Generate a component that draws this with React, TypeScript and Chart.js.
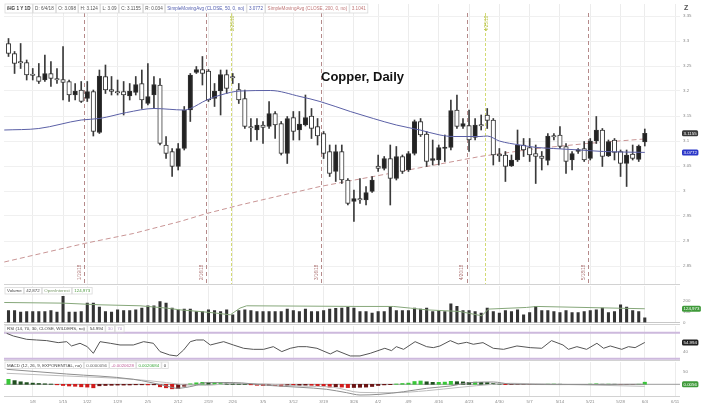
import React, { useEffect, useRef } from 'react';
import { Chart, registerables } from 'chart.js';

Chart.register(...registerables);

const FONT = '"Liberation Sans", Arial, sans-serif';

// ---------------- data ----------------
const opens = [
  3.295, 3.275, 3.258, 3.257, 3.233, 3.229, 3.222, 3.235, 3.225, 3.223,
  3.219, 3.192, 3.202, 3.185, 3.199, 3.117, 3.229, 3.203, 3.199, 3.199,
  3.190, 3.197, 3.215, 3.175, 3.192, 3.212, 3.092, 3.079, 3.049, 3.085,
  3.162, 3.237, 3.243, 3.240, 3.185, 3.200, 3.233, 3.229, 3.203, 3.185,
  3.129, 3.122, 3.132, 3.129, 3.155, 3.135, 3.075, 3.147, 3.122, 3.132,
  3.150, 3.129, 3.115, 3.079, 3.039, 3.079, 3.022, 2.979, 2.985, 2.982,
  2.999, 3.050, 3.045, 3.065, 3.025, 3.069, 3.042, 3.075, 3.139, 3.114,
  3.061, 3.062, 3.085, 3.087, 3.162, 3.129, 3.131, 3.107, 3.131, 3.152,
  3.142, 3.074, 3.072, 3.050, 3.062, 3.092, 3.087, 3.075, 3.070, 3.061,
  3.110, 3.112, 3.089, 3.062, 3.079, 3.085, 3.065, 3.100, 3.122, 3.070,
  3.102, 3.079, 3.055, 3.074, 3.063, 3.098,
];
const highs = [
  3.305, 3.279, 3.295, 3.262, 3.245, 3.255, 3.272, 3.259, 3.245, 3.289,
  3.222, 3.215, 3.219, 3.219, 3.202, 3.242, 3.252, 3.229, 3.222, 3.219,
  3.215, 3.229, 3.242, 3.255, 3.229, 3.225, 3.109, 3.085, 3.095, 3.169,
  3.235, 3.249, 3.269, 3.243, 3.215, 3.242, 3.242, 3.235, 3.215, 3.202,
  3.145, 3.145, 3.139, 3.179, 3.159, 3.139, 3.149, 3.159, 3.159, 3.192,
  3.165, 3.145, 3.119, 3.092, 3.092, 3.092, 3.025, 3.002, 3.025, 3.009,
  3.029, 3.072, 3.069, 3.092, 3.089, 3.072, 3.079, 3.142, 3.145, 3.119,
  3.102, 3.092, 3.112, 3.182, 3.192, 3.145, 3.162, 3.145, 3.152, 3.165,
  3.145, 3.085, 3.079, 3.072, 3.122, 3.105, 3.105, 3.092, 3.079, 3.115,
  3.115, 3.129, 3.095, 3.079, 3.085, 3.099, 3.105, 3.149, 3.125, 3.102,
  3.105, 3.082, 3.082, 3.092, 3.092, 3.124,
];
const lows = [
  3.269, 3.235, 3.245, 3.222, 3.222, 3.215, 3.219, 3.209, 3.215, 3.182,
  3.179, 3.182, 3.177, 3.179, 3.110, 3.115, 3.195, 3.192, 3.192, 3.152,
  3.182, 3.192, 3.165, 3.172, 3.165, 3.092, 3.065, 3.029, 3.042, 3.082,
  3.139, 3.235, 3.212, 3.179, 3.169, 3.152, 3.195, 3.215, 3.175, 3.125,
  3.099, 3.102, 3.095, 3.125, 3.105, 3.072, 3.055, 3.102, 3.102, 3.130,
  3.105, 3.092, 3.065, 3.029, 3.019, 3.015, 2.972, 2.939, 2.975, 2.972,
  2.997, 3.039, 3.042, 2.972, 3.022, 3.035, 3.039, 3.072, 3.109, 3.049,
  3.052, 3.052, 3.059, 3.082, 3.125, 3.125, 3.079, 3.102, 3.122, 3.125,
  3.052, 3.059, 3.019, 3.049, 3.059, 3.069, 3.059, 3.015, 3.042, 3.052,
  3.102, 3.085, 3.035, 3.042, 3.075, 3.059, 3.062, 3.095, 3.049, 3.069,
  3.062, 3.029, 3.009, 3.062, 3.059, 3.090,
];
const closes = [
  3.275, 3.255, 3.256, 3.232, 3.231, 3.219, 3.235, 3.225, 3.222, 3.217,
  3.192, 3.200, 3.179, 3.199, 3.119, 3.230, 3.202, 3.199, 3.196, 3.192,
  3.200, 3.213, 3.182, 3.189, 3.213, 3.095, 3.075, 3.049, 3.085, 3.162,
  3.232, 3.243, 3.235, 3.182, 3.200, 3.233, 3.205, 3.226, 3.182, 3.129,
  3.126, 3.132, 3.127, 3.155, 3.132, 3.075, 3.145, 3.119, 3.134, 3.147,
  3.125, 3.110, 3.075, 3.035, 3.079, 3.022, 2.975, 2.985, 2.982, 2.997,
  3.022, 3.045, 3.065, 3.025, 3.069, 3.039, 3.075, 3.139, 3.112, 3.059,
  3.065, 3.087, 3.087, 3.161, 3.129, 3.135, 3.102, 3.132, 3.130, 3.141,
  3.072, 3.070, 3.049, 3.062, 3.092, 3.082, 3.072, 3.069, 3.065, 3.110,
  3.108, 3.089, 3.059, 3.075, 3.083, 3.062, 3.100, 3.122, 3.069, 3.099,
  3.077, 3.055, 3.072, 3.065, 3.090, 3.1155,
];
// volume in thousands of contracts
const volumes = [
  109, 109, 94, 100, 100, 100, 100, 109, 94, 237,
  94, 94, 100, 176, 176, 140, 100, 94, 115, 109,
  109, 115, 131, 152, 152, 191, 176, 131, 115, 122,
  122, 100, 100, 115, 109, 100, 115, 70, 109, 115,
  109, 100, 100, 100, 100, 100, 122, 109, 100, 122,
  100, 100, 109, 122, 128, 131, 140, 131, 100, 100,
  85, 100, 100, 146, 109, 109, 109, 131, 122, 131,
  100, 109, 100, 170, 146, 109, 109, 100, 85, 131,
  100, 85, 109, 100, 115, 70, 91, 146, 109, 109,
  100, 91, 109, 91, 91, 100, 109, 115, 131, 91,
  100, 161, 140, 109, 100, 42.872,
];
const sma50Idx = [-0.7, 5, 12, 15, 19.5, 24, 29, 30, 32.7, 35, 38.2, 43.2, 48.1, 51.4, 56.4, 60.2, 64, 67.9, 71.2, 73.4, 77.8, 79, 81, 84.4, 87.2, 89.9, 94.3, 98.2, 105];
const sma50Val = [3.122, 3.125, 3.142, 3.145, 3.157, 3.165, 3.162, 3.165, 3.182, 3.192, 3.2, 3.201, 3.189, 3.179, 3.159, 3.145, 3.132, 3.122, 3.112, 3.109, 3.109, 3.11, 3.1, 3.092, 3.087, 3.085, 3.082, 3.079, 3.0772];
const sma200Idx = [-0.7, 12.5, 20.6, 28.3, 32.7, 38.2, 51.4, 64.6, 77.8, 87.2, 95.4, 105];
const sma200Val = [2.858, 2.895, 2.915, 2.939, 2.955, 2.972, 3.009, 3.039, 3.069, 3.085, 3.095, 3.1041];
// open interest in thousands
const oiIdx = [-0.7, 9, 15.1, 21.7, 26.1, 28.3, 31.6, 34.3, 36.6, 38.2, 39.3, 58, 63.5, 66.3, 69, 74.5, 78.1, 79.2, 85.5, 87.2, 105];
const oiVal = [182, 176, 161, 152, 131, 115, 100, 85, 70, 131, 152, 146, 146, 131, 115, 100, 61, 122, 137, 146, 125];
const rsiIdx = [-0.3, 0.8, 3.0, 4.6, 6.3, 8.2, 9.6, 10.4, 11.8, 13.0, 14.0, 15.1, 16.8, 18.4, 20.6, 22.3, 23.9, 25.0, 26.6, 27.8, 28.9, 30.0, 31.0, 32.2, 33.3, 34.4, 35.5, 37.1, 38.8, 40.4, 42.1, 43.7, 45.1, 46.5, 47.8, 49.2, 50.9, 53.1, 54.2, 56.4, 58.0, 59.7, 62.1, 63.2, 64.0, 65.2, 67.1, 69.0, 70.1, 71.2, 72.9, 74.2, 75.6, 76.7, 78.3, 80.0, 81.7, 83.9, 86.1, 88.0, 89.6, 91.5, 92.4, 93.8, 95.4, 97.1, 98.2, 99.3, 101.2, 102.3, 103.4, 105.0];
const rsiVal = [69.0, 64.9, 59.8, 58.8, 57.8, 54.7, 56.2, 49.6, 53.7, 48.5, 38.3, 56.2, 53.7, 51.1, 51.1, 56.2, 53.7, 40.9, 35.7, 34.2, 43.4, 56.2, 58.8, 58.8, 51.1, 53.7, 56.2, 51.1, 46.0, 44.4, 44.4, 48.5, 40.9, 46.0, 48.5, 48.5, 46.0, 37.3, 42.4, 34.2, 34.2, 38.3, 46.0, 42.4, 48.5, 44.4, 56.2, 48.5, 47.0, 49.6, 57.8, 52.7, 55.2, 52.2, 54.7, 46.0, 44.4, 49.6, 47.0, 46.0, 57.8, 51.1, 44.4, 48.5, 44.4, 53.7, 46.0, 49.6, 44.4, 48.5, 47.0, 54.994];
const macdIdx = [-0.3, 9.6, 20.6, 26.1, 27.8, 30.5, 32.7, 37.1, 42.6, 48.1, 52.5, 55.8, 58.0, 61.3, 65.2, 69.0, 72.9, 76.2, 80.0, 82.8, 91.0, 105];
const macdVal = [0.015, 0.0103, 0.005, -0.0017, -0.004, -0.0017, 0.0017, 0.0017, -0.001, -0.003, -0.005, -0.0084, -0.0107, -0.01, -0.0074, -0.004, -0.0017, 0.0017, 0.0023, 0.0003, -0.0003, 0.0000056];
const signalIdx = [-0.3, 9.6, 20.6, 26.1, 29.4, 32.7, 37.1, 42.6, 48.1, 53.6, 58.0, 63.5, 69.0, 74.5, 80.0, 82.8, 91.0, 105];
const signalVal = [0.011, 0.0083, 0.005, 0.0017, -0.0007, -0.001, 0.001, 0.0003, -0.0017, -0.003, -0.0081, -0.0084, -0.0064, -0.003, 0.0, 0.001, 0.0, -0.0020628];
const macdHist = [
  0.005, 0.0037, 0.0025, 0.0017, 0.0012, 0.0008, 0.0005, 0.0002, -0.0005, -0.0012,
  -0.0017, -0.002, -0.0025, -0.0028, -0.0035, -0.0015, -0.0012, -0.001, -0.0008, -0.0008,
  -0.0007, -0.0005, -0.0005, -0.0006, -0.0005, -0.0025, -0.0035, -0.0045, -0.0042, -0.002,
  0.0005, 0.0015, 0.002, 0.0017, 0.0018, 0.002, 0.0016, 0.0012, 0.0006, 0.0002,
  -0.0005, -0.001, -0.0012, -0.001, -0.0012, -0.0018, -0.0012, -0.0014, -0.0012, -0.001,
  -0.0011, -0.0014, -0.002, -0.0028, -0.0025, -0.0028, -0.0033, -0.0032, -0.003, -0.0028,
  -0.0022, -0.0012, -0.0006, -0.0004, 0.0003, 0.0008, 0.0012, 0.0028, 0.0033, 0.0025,
  0.002, 0.002, 0.0022, 0.003, 0.0026, 0.0024, 0.002, 0.0022, 0.002, 0.0018,
  0.0008, 0.0003, -0.0004, -0.0004, -0.0002, -0.0002, -0.0003, -0.0004, -0.0003, 0.0002,
  0.0003, 0.0001, -0.0003, -0.0002, -0.0001, -0.0002, 0.0002, 0.0005, 0.0001, 0.0002,
  0.0001, -0.0003, -0.0002, -0.0001, 0.0001, 0.0021,
];
const weekIdx = [4, 9, 13, 18, 23, 28, 33, 37, 42, 47, 52, 57, 61, 66, 71, 76, 81, 86, 91, 96, 101, 105, 110];
const weekLabels = ['1/8', '1/15', '1/22', '1/29', '2/5', '2/12', '2/19', '2/26', '3/5', '3/12', '3/19', '3/26', '4/2', '4/9', '4/16', '4/23', '4/30', '5/7', '5/14', '5/21', '5/28', '6/4', '6/11'];
const priceTicks = [3.35, 3.3, 3.25, 3.2, 3.15, 3.1, 3.05, 3, 2.95, 2.9, 2.85];
const priceTickLabels = ['3.35', '3.3', '3.25', '3.2', '3.15', '3.1', '3.05', '3', '2.95', '2.9', '2.85'];
const volTicks = [0, 100, 200];
const volTickLabels = ['0', '100', '200'];
const rsiTicks = [40];
const rsiTickLabels = ['40'];
const macdTicks = [0.0123];
const macdTickLabels = ['50'];
const eventIdx = [12.5, 32.6, 51.6, 75.6, 95.6];
const eventLabels = ['1/19/18', '2/16/18', '3/16/18', '4/20/18', '5/18/18'];
const expiryIdx = [36.7, 78.6];
const expiryLabels = ['2/23/18', '4/25/18'];

const priceHeader = [
  { text: '/HG 1 Y 1D', bold: true, color: '#333' },
  { text: 'D: 6/4/18' },
  { text: 'O: 3.098' },
  { text: 'H: 3.124' },
  { text: 'L: 3.09' },
  { text: 'C: 3.1155' },
  { text: 'R: 0.034' },
  { text: 'SimpleMovingAvg (CLOSE, 50, 0, no)', color: '#5560b0' },
  { text: '3.0772', color: '#5560b0' },
  { text: 'SimpleMovingAvg (CLOSE, 200, 0, no)', color: '#c07878' },
  { text: '3.1041', color: '#c07878' },
];
const volHeader = [
  { text: 'Volume', color: '#444' },
  { text: '42,872', color: '#444' },
  { text: 'OpenInterest', color: '#7a9a6a' },
  { text: '124,973', color: '#4e9a40' },
];
const rsiHeader = [
  { text: 'RSI (14, 70, 30, CLOSE, WILDERS, no)', color: '#444' },
  { text: '54.994', color: '#444' },
  { text: '30', color: '#b79ac9' },
  { text: '70', color: '#b79ac9' },
];
const macdHeader = [
  { text: 'MACD (12, 26, 9, EXPONENTIAL, no)', color: '#444' },
  { text: '0.0000056', color: '#666' },
  { text: '-0.0020628', color: '#c0609a' },
  { text: '0.0020684', color: '#3aa83a' },
  { text: '0', color: '#444' },
];

// ---------------- layout helpers ----------------
const X_MIN = -0.743;
const X_MAX = 110.81;
const AXIS_W = 38;
const TICK_FONT = { size: 4.4, family: FONT };

const pts = (xs: number[], ys: number[]) => xs.map((x, i) => ({ x, y: ys[i] }));

function noPad(s: any) {
  s.paddingTop = 0;
  s.paddingBottom = 0;
  s.paddingLeft = 0;
  s.paddingRight = 0;
}

function xAxis(labels: boolean) {
  return {
    type: 'linear',
    min: X_MIN,
    max: X_MAX,
    offset: false,
    afterBuildTicks: (s: any) => {
      s.ticks = weekIdx.map((v) => ({ value: v }));
    },
    afterFit: (s: any) => {
      s.height = labels ? 24 : 0;
      noPad(s);
    },
    ticks: {
      display: labels,
      autoSkip: false,
      maxRotation: 0,
      minRotation: 0,
      padding: 3,
      color: '#8a8a8a',
      font: TICK_FONT,
      callback: (v: number) => {
        const k = weekIdx.indexOf(v);
        return k >= 0 ? weekLabels[k] : '';
      },
    },
    grid: { display: true, color: '#ececec', lineWidth: 1, drawTicks: false, offset: false },
    border: { display: false },
  };
}

function yAxis(min: number, max: number, vals: number[], labels: string[], gridColor?: string) {
  return {
    type: 'linear',
    position: 'right',
    min,
    max,
    afterBuildTicks: (s: any) => {
      s.ticks = vals.map((v) => ({ value: v }));
    },
    afterFit: (s: any) => {
      s.width = AXIS_W;
      noPad(s);
    },
    ticks: {
      padding: 3,
      color: '#8a8a8a',
      font: TICK_FONT,
      callback: (v: number) => {
        const k = vals.indexOf(v);
        return k >= 0 ? labels[k] : '';
      },
    },
    grid: { display: !!gridColor, color: gridColor || '#ffffff', drawTicks: false },
    border: { display: false },
  };
}

function baseOptions(pad: any, scales: any) {
  return {
    responsive: false,
    maintainAspectRatio: false,
    animation: false,
    devicePixelRatio: 1,
    events: [],
    layout: { padding: pad },
    plugins: { legend: { display: false }, tooltip: { enabled: false }, title: { display: false } },
    scales,
  };
}

function drawCells(ctx: CanvasRenderingContext2D, x: number, y: number, h: number, cells: any[], size: number) {
  ctx.save();
  let cx = x;
  ctx.textBaseline = 'middle';
  ctx.textAlign = 'left';
  for (const c of cells) {
    ctx.font = `${c.bold ? 'bold ' : ''}${size}px ${FONT}`;
    const w = ctx.measureText(c.text).width + 4;
    ctx.fillStyle = '#ffffff';
    ctx.fillRect(cx, y, w, h);
    ctx.strokeStyle = '#d9d9d9';
    ctx.lineWidth = 0.8;
    ctx.strokeRect(cx, y, w, h);
    ctx.fillStyle = c.color || '#555';
    ctx.fillText(c.text, cx + 2, y + h / 2 + 0.3);
    cx += w + 0.6;
  }
  ctx.restore();
}

function drawBadge(ctx: CanvasRenderingContext2D, chart: any, value: number, text: string, bg: string) {
  const y = chart.scales.y.getPixelForValue(value);
  const x = chart.chartArea.right + 2;
  ctx.save();
  ctx.font = `${4.4}px ${FONT}`;
  const w = ctx.measureText(text).width + 3;
  const h = 6;
  ctx.fillStyle = bg;
  ctx.beginPath();
  if ((ctx as any).roundRect) (ctx as any).roundRect(x, y - h / 2, w, h, 1.5);
  else ctx.rect(x, y - h / 2, w, h);
  ctx.fill();
  ctx.fillStyle = '#ffffff';
  ctx.textBaseline = 'middle';
  ctx.textAlign = 'left';
  ctx.fillText(text, x + 1.5, y + 0.3);
  ctx.restore();
}

function hLine(ctx: CanvasRenderingContext2D, chart: any, value: number, color: string, width: number) {
  const y = chart.scales.y.getPixelForValue(value);
  const a = chart.chartArea;
  ctx.save();
  ctx.strokeStyle = color;
  ctx.lineWidth = width;
  ctx.beginPath();
  ctx.moveTo(a.left, y);
  ctx.lineTo(a.right, y);
  ctx.stroke();
  ctx.restore();
}

function separator(ctx: CanvasRenderingContext2D, chart: any, y: number) {
  const a = chart.chartArea;
  ctx.save();
  ctx.strokeStyle = '#d2d2d2';
  ctx.lineWidth = 1;
  ctx.beginPath();
  ctx.moveTo(a.left, y);
  ctx.lineTo(a.right, y);
  ctx.stroke();
  ctx.restore();
}

// ---------------- chart configs ----------------
function priceConfig() {
  const idx = opens.map((_, i) => i);
  const up = idx.map((i) => closes[i] >= opens[i]);
  const wick = idx.map((i) => ({ x: i, y: [lows[i], highs[i]] }));
  const body = idx.map((i) => ({ x: i, y: [Math.min(opens[i], closes[i]), Math.max(opens[i], closes[i])] }));
  const overlay = {
    id: 'overlay',
    beforeDatasetsDraw: (chart: any) => {
      const ctx = chart.ctx;
      const xs = chart.scales.x;
      const a = chart.chartArea;
      ctx.save();
      ctx.lineWidth = 1;
      ctx.setLineDash([4, 3]);
      ctx.strokeStyle = '#b58a8a';
      eventIdx.forEach((v) => {
        const px = Math.round(xs.getPixelForValue(v)) + 0.5;
        ctx.beginPath();
        ctx.moveTo(px, a.top + 9);
        ctx.lineTo(px, a.bottom);
        ctx.stroke();
      });
      ctx.setLineDash([3, 2]);
      ctx.strokeStyle = '#d3da74';
      expiryIdx.forEach((v) => {
        const px = Math.round(xs.getPixelForValue(v)) + 0.5;
        ctx.beginPath();
        ctx.moveTo(px, a.top + 9);
        ctx.lineTo(px, a.bottom);
        ctx.stroke();
      });
      ctx.restore();
    },
    afterDraw: (chart: any) => {
      const ctx = chart.ctx;
      const xs = chart.scales.x;
      const a = chart.chartArea;
      ctx.save();
      ctx.font = `4.6px ${FONT}`;
      ctx.textBaseline = 'middle';
      ctx.textAlign = 'left';
      ctx.fillStyle = '#a86a6a';
      eventIdx.forEach((v, k) => {
        const px = xs.getPixelForValue(v) - 4.5;
        ctx.save();
        ctx.translate(px, a.bottom - 4);
        ctx.rotate(-Math.PI / 2);
        ctx.fillText(eventLabels[k], 0, 0);
        ctx.restore();
      });
      ctx.fillStyle = '#b5c040';
      expiryIdx.forEach((v, k) => {
        const px = xs.getPixelForValue(v) + 1.5;
        ctx.save();
        ctx.translate(px, a.top + 27);
        ctx.rotate(-Math.PI / 2);
        ctx.fillText(expiryLabels[k], 0, 0);
        ctx.restore();
      });
      ctx.restore();
      drawCells(ctx, 5, 4, 9, priceHeader, 4.6);
      drawBadge(ctx, chart, 3.1155, '3.1155', '#383838');
      drawBadge(ctx, chart, 3.0772, '3.0772', '#2a36c8');
      ctx.save();
      ctx.font = `bold 7px ${FONT}`;
      ctx.fillStyle = '#555';
      ctx.textBaseline = 'top';
      ctx.fillText('Z', a.right + 4, 5);
      ctx.restore();
      separator(ctx, chart, a.bottom + 0.5);
    },
  };
  return {
    type: 'bar',
    data: {
      datasets: [
        {
          type: 'line',
          data: pts(sma200Idx, sma200Val),
          borderColor: '#c99595',
          borderWidth: 1,
          borderDash: [5, 3],
          pointRadius: 0,
          order: 4,
        },
        {
          type: 'bar',
          data: wick,
          backgroundColor: '#3a3a3a',
          barThickness: 1,
          grouped: false,
          order: 3,
        },
        {
          type: 'bar',
          data: body,
          backgroundColor: up.map((u) => (u ? '#222222' : '#ffffff')),
          borderColor: '#333333',
          borderWidth: 1,
          borderSkipped: false,
          barThickness: 4.5,
          minBarLength: 1.5,
          grouped: false,
          order: 2,
        },
        {
          type: 'line',
          data: pts(sma50Idx, sma50Val),
          borderColor: '#5b60a6',
          borderWidth: 1,
          pointRadius: 0,
          cubicInterpolationMode: 'monotone',
          order: 1,
        },
      ],
    },
    options: baseOptions(
      { left: 4, top: 4, right: 0, bottom: 1 },
      { x: xAxis(false), y: yAxis(2.814, 3.374, priceTicks, priceTickLabels, '#f0f0f0') }
    ),
    plugins: [overlay],
  };
}

function volumeConfig() {
  const overlay = {
    id: 'overlay',
    beforeDatasetsDraw: (chart: any) => {
      hLine(chart.ctx, chart, 0, '#c8c8c8', 1);
    },
    afterDraw: (chart: any) => {
      const ctx = chart.ctx;
      drawCells(ctx, 5, 2.5, 6.5, volHeader, 4.4);
      drawBadge(ctx, chart, 124.973, '124,973', '#3f9a3a');
      separator(ctx, chart, 39.5);
    },
  };
  return {
    type: 'bar',
    data: {
      datasets: [
        {
          type: 'line',
          data: pts(oiIdx, oiVal),
          borderColor: '#86a77a',
          borderWidth: 1,
          pointRadius: 0,
          order: 1,
        },
        {
          type: 'bar',
          data: volumes.map((v, i) => ({ x: i, y: v })),
          backgroundColor: '#333333',
          barThickness: 2.4,
          grouped: false,
          order: 2,
        },
      ],
    },
    options: baseOptions(
      { left: 4, top: 1, right: 0, bottom: 2.5 },
      { x: xAxis(false), y: yAxis(0, 332, volTicks, volTickLabels) }
    ),
    plugins: [overlay],
  };
}

function rsiConfig() {
  const overlay = {
    id: 'overlay',
    beforeDatasetsDraw: (chart: any) => {
      hLine(chart.ctx, chart, 70, '#cdb9dd', 2);
      hLine(chart.ctx, chart, 30, '#cdb9dd', 2);
    },
    afterDraw: (chart: any) => {
      const ctx = chart.ctx;
      drawCells(ctx, 5, 0.5, 6.5, rsiHeader, 4.4);
      drawBadge(ctx, chart, 54.994, '54.994', '#1e1e1e');
      separator(ctx, chart, 35.5);
    },
  };
  return {
    type: 'line',
    data: {
      datasets: [
        {
          data: pts(rsiIdx, rsiVal),
          borderColor: '#555555',
          borderWidth: 1,
          pointRadius: 0,
        },
      ],
    },
    options: baseOptions(
      { left: 4, top: 1, right: 0, bottom: 0 },
      { x: xAxis(false), y: yAxis(26.45, 80.3, rsiTicks, rsiTickLabels) }
    ),
    plugins: [overlay],
  };
}

function macdConfig() {
  const colors = macdHist.map((v, i) => {
    const prev = i > 0 ? macdHist[i - 1] : v;
    if (v >= 0) return v >= prev ? '#39c639' : '#1f4f1f';
    return v < prev ? '#d01c1c' : '#6b1414';
  });
  const overlay = {
    id: 'overlay',
    beforeDatasetsDraw: (chart: any) => {
      hLine(chart.ctx, chart, 0, '#9a9a9a', 1);
    },
    afterDraw: (chart: any) => {
      const ctx = chart.ctx;
      drawCells(ctx, 5, 1, 6.5, macdHeader, 4.4);
      drawBadge(ctx, chart, 0, '0.0056', '#3f9a3a');
      separator(ctx, chart, chart.chartArea.bottom + 0.5);
    },
  };
  return {
    type: 'bar',
    data: {
      datasets: [
        {
          type: 'line',
          data: pts(macdIdx, macdVal),
          borderColor: '#8e8e8e',
          borderWidth: 1,
          pointRadius: 0,
          cubicInterpolationMode: 'monotone',
          order: 1,
        },
        {
          type: 'line',
          data: pts(signalIdx, signalVal),
          borderColor: '#bdbdbd',
          borderWidth: 1,
          pointRadius: 0,
          cubicInterpolationMode: 'monotone',
          order: 1,
        },
        {
          type: 'bar',
          data: macdHist.map((v, i) => ({ x: i, y: v })),
          backgroundColor: colors,
          barThickness: 3.4,
          grouped: false,
          order: 2,
        },
      ],
    },
    options: baseOptions(
      { left: 4, top: 1, right: 0, bottom: 0 },
      { x: xAxis(true), y: yAxis(-0.0117, 0.0223, macdTicks, macdTickLabels) }
    ),
    plugins: [overlay],
  };
}

export default function App() {
  const r1 = useRef<HTMLCanvasElement>(null);
  const r2 = useRef<HTMLCanvasElement>(null);
  const r3 = useRef<HTMLCanvasElement>(null);
  const r4 = useRef<HTMLCanvasElement>(null);

  useEffect(() => {
    document.body.style.margin = '0';
    const charts = [
      new Chart(r1.current as any, priceConfig() as any),
      new Chart(r2.current as any, volumeConfig() as any),
      new Chart(r3.current as any, rsiConfig() as any),
      new Chart(r4.current as any, macdConfig() as any),
    ];
    return () => charts.forEach((c) => c.destroy());
  }, []);

  const abs = (top: number) => ({ position: 'absolute' as const, left: 0, top });

  return (
    <div style={{ position: 'relative', width: 718, height: 420, background: '#ffffff', overflow: 'hidden' }}>
      <canvas ref={r1} width={718} height={285} style={abs(0)} />
      <canvas ref={r2} width={718} height={40} style={abs(285)} />
      <canvas ref={r3} width={718} height={36} style={abs(325)} />
      <canvas ref={r4} width={718} height={59} style={abs(361)} />
      <div
        style={{
          position: 'absolute',
          left: 321,
          top: 70,
          font: `bold 13px ${FONT}`,
          lineHeight: '13px',
          color: '#111',
          whiteSpace: 'nowrap',
        }}
      >
        Copper, Daily
      </div>
    </div>
  );
}
